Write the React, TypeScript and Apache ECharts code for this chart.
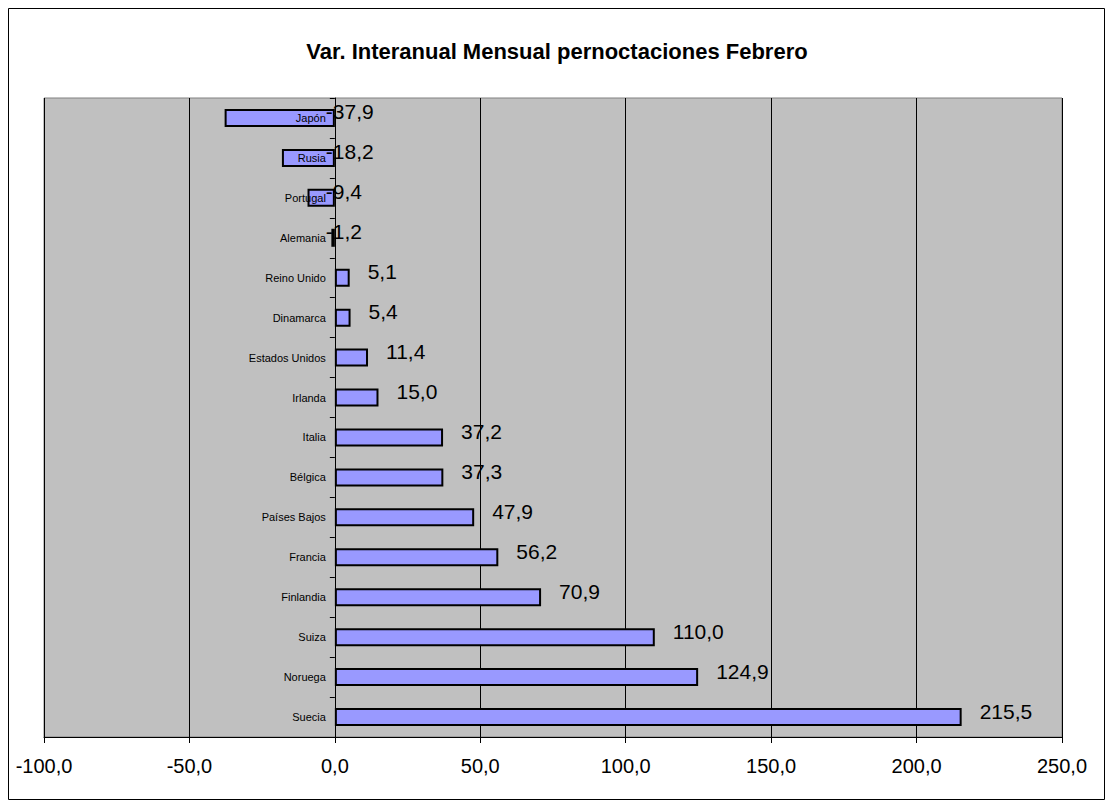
import React, { useEffect, useRef } from "react";
import * as echarts from "echarts";

const titleText = "Var. Interanual Mensual pernoctaciones Febrero";
const categories = [
  "Suecia", "Noruega", "Suiza", "Finlandia", "Francia", "Países Bajos", "Bélgica", "Italia",
  "Irlanda", "Estados Unidos", "Dinamarca", "Reino Unido", "Alemania", "Portugal", "Rusia", "Japón",
];
const values = [
  215.5, 124.9, 110.0, 70.9, 56.2, 47.9, 37.3, 37.2,
  15.0, 11.4, 5.4, 5.1, -1.2, -9.4, -18.2, -37.9,
];
const xMin = -100;
const xMax = 250;
const xStep = 50;

const fmt = (v: number) => v.toFixed(1).replace(".", ",");

export default function App() {
  const ref = useRef<HTMLDivElement>(null);
  useEffect(() => {
    if (!ref.current) return;
    const chart = echarts.init(ref.current, undefined, { renderer: "svg" });
    const font = "'Liberation Sans', Arial, sans-serif";
    const gridLeft = 36;
    const gridWidth = 1018;
    const zeroOffset = ((0 - xMin) / (xMax - xMin)) * gridWidth;
    chart.setOption({
      animation: false,
      backgroundColor: "#ffffff",
      textStyle: { fontFamily: font },
      title: {
        text: titleText,
        left: "center",
        top: 27,
        textStyle: { fontFamily: font, fontSize: 22, fontWeight: "bold", color: "#000" },
      },
      graphic: [
        {
          type: "rect",
          shape: { x: 0.5, y: 0.5, width: 1096, height: 791 },
          style: { fill: "none", stroke: "#000", lineWidth: 1 },
          silent: true,
        },
      ],
      grid: {
        left: gridLeft,
        top: 90,
        width: gridWidth,
        height: 639,
        containLabel: false,
        outerBoundsMode: "none",
        show: true,
        backgroundColor: "#C0C0C0",
        borderColor: "#808080",
        borderWidth: 1,
      },
      xAxis: {
        type: "value",
        min: xMin,
        max: xMax,
        interval: xStep,
        axisLine: { show: true, onZero: false, lineStyle: { color: "#000", width: 1 } },
        axisTick: { show: true, length: 6, lineStyle: { color: "#000" } },
        axisLabel: {
          formatter: (v: number) => fmt(v),
          fontSize: 20,
          color: "#000",
          margin: 19,
          fontFamily: font,
        },
        splitLine: { show: true, lineStyle: { color: "#000", width: 1 } },
      },
      yAxis: {
        type: "category",
        data: categories,
        position: "left",
        offset: -zeroOffset,
        z: 5,
        axisLine: { show: true, onZero: false, lineStyle: { color: "#000", width: 1 } },
        axisTick: { show: true, length: 5, lineStyle: { color: "#000" } },
        axisLabel: { fontSize: 11, color: "#000", margin: 9, fontFamily: font },
        splitLine: { show: false },
      },
      series: [
        {
          type: "bar",
          z: 2,
          data: values.map((v) => ({
            value: v,
            label: {
              show: true,
              position: "right",
              distance: v < 0 ? -9 : 18,
              offset: [0, -6],
            },
          })),
          barWidth: 18,
          itemStyle: { color: "#9999FF", borderColor: "#000", borderWidth: 2 },
          label: {
            show: true,
            formatter: (p: any) => fmt(p.value),
            fontSize: 21,
            color: "#000",
            fontFamily: font,
          },
        },
      ],
    });
    return () => chart.dispose();
  }, []);
  return <div ref={ref} style={{ width: 1098, height: 793 }} />;
}
